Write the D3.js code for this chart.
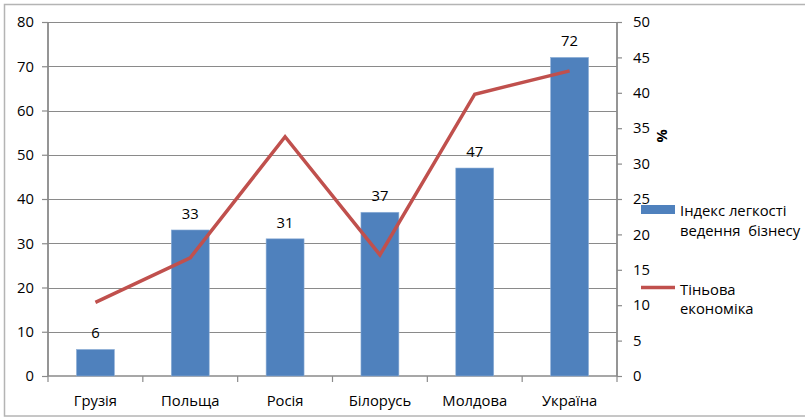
<!DOCTYPE html>
<html><head><meta charset="utf-8">
<script src="https://cdn.jsdelivr.net/npm/d3@7"></script>
<style>
body{margin:0;background:#fff;}
svg{display:block;font-family:"Open Sans",sans-serif;}
</style></head>
<body><svg id="c" width="805" height="417"></svg>
<script>
const categories = ["Грузія","Польща","Росія","Білорусь","Молдова","Україна"];
const indexValues = [6,33,31,37,47,72];
const shadowValues = [10.4,16.7,33.8,17.1,39.8,43.1];
const leftTicks = [0,10,20,30,40,50,60,70,80];
const rightTicks = [0,5,10,15,20,25,30,35,40,45,50];
const seriesNames = [["Індекс легкості","ведення  бізнесу"],["Тіньова","економіка"]];

const svg = d3.select("#c");
const L = 48, R = 617, T = 22, B = 376;
const fs = 14.8;
const gridCol = "#8a8a8a";

svg.append("rect").attr("x",4.5).attr("y",4.5).attr("width",810).attr("height",411.5)
  .attr("fill","none").attr("stroke","#b4b4b4").attr("stroke-width",1.5);

const x = d3.scaleBand().domain(categories).range([L,R]).paddingInner(0.6).paddingOuter(0.3);
const xb = d3.scaleBand().domain(categories).range([L,R]);
const yL = d3.scaleLinear().domain([0,80]).range([B,T]);
const yR = d3.scaleLinear().domain([0,50]).range([B,T]);

// gridlines
svg.append("g").selectAll("line").data(leftTicks.filter(d=>d>0)).join("line")
  .attr("x1",L).attr("x2",R).attr("y1",d=>Math.round(yL(d))+0.5).attr("y2",d=>Math.round(yL(d))+0.5)
  .attr("stroke",gridCol).attr("stroke-width",1);

// left axis
const gl = svg.append("g").attr("transform",`translate(${L},0)`)
  .call(d3.axisLeft(yL).tickValues(leftTicks).tickSize(6).tickPadding(8));
// right axis
const gr = svg.append("g").attr("transform",`translate(${R},0)`)
  .call(d3.axisRight(yR).tickValues(rightTicks).tickSize(5).tickPadding(11));
// bottom axis
const boundaries = categories.map(c=>xb(c)).concat([R]);
const gb = svg.append("g").attr("transform",`translate(0,${B})`);
gb.append("line").attr("x1",L).attr("x2",R).attr("y1",0).attr("y2",0).attr("stroke",gridCol).attr("stroke-width",1.5);
gb.selectAll("line.t").data(boundaries).join("line").attr("class","t")
  .attr("x1",d=>d).attr("x2",d=>d).attr("y1",0).attr("y2",6).attr("stroke",gridCol).attr("stroke-width",1.2);
gb.selectAll("text").data(categories).join("text")
  .attr("x",d=>xb(d)+xb.bandwidth()/2).attr("y",30).attr("text-anchor","middle")
  .attr("font-size",fs).attr("fill","#000").text(d=>d);

[gl,gr].forEach(g=>{
  g.select(".domain").attr("stroke",gridCol).attr("stroke-width",1.8);
  g.selectAll(".tick line").attr("stroke",gridCol).attr("stroke-width",1.2);
  g.selectAll(".tick text").attr("font-size",fs).attr("fill","#000").attr("font-family","Open Sans, sans-serif");
});
gl.select(".domain").attr("d",`M0,${B}V${T}`);
gr.select(".domain").attr("d",`M0,${B}V${T}`);

// bars
svg.append("g").selectAll("rect").data(indexValues).join("rect")
  .attr("x",(d,i)=>x(categories[i])).attr("width",x.bandwidth())
  .attr("y",d=>yL(d)).attr("height",d=>B-yL(d))
  .attr("fill","#4F81BD").attr("stroke","#8fb0d8").attr("stroke-width",0.6);

// data labels
svg.append("g").selectAll("text").data(indexValues).join("text")
  .attr("x",(d,i)=>x(categories[i])+x.bandwidth()/2).attr("y",d=>yL(d)-11)
  .attr("text-anchor","middle").attr("font-size",fs).attr("fill","#000").text(d=>d);

// line
const line = d3.line().x((d,i)=>xb(categories[i])+xb.bandwidth()/2).y(d=>yR(d));
svg.append("path").datum(shadowValues).attr("d",line).attr("fill","none")
  .attr("stroke","#C0504D").attr("stroke-width",3.5).attr("stroke-linejoin","miter");

// % axis title
svg.append("text").attr("transform","translate(657,136) rotate(90)")
  .attr("text-anchor","middle").attr("font-size",fs).attr("font-weight","bold").text("%");

// legend
const lg = svg.append("g");
lg.append("rect").attr("x",641).attr("y",205).attr("width",34).attr("height",9).attr("fill","#4F81BD");
lg.append("line").attr("x1",641).attr("x2",675).attr("y1",287.5).attr("y2",287.5).attr("stroke","#C0504D").attr("stroke-width",3.5);
const ly = [[216,235.5],[294.5,314]];
seriesNames.forEach((lines,k)=>{
  lines.forEach((t,j)=>{
    lg.append("text").attr("x",680).attr("y",ly[k][j]).attr("font-size",fs).attr("fill","#000")
      .attr("xml:space","preserve").style("white-space","pre").text(t);
  });
});
</script></body></html>
